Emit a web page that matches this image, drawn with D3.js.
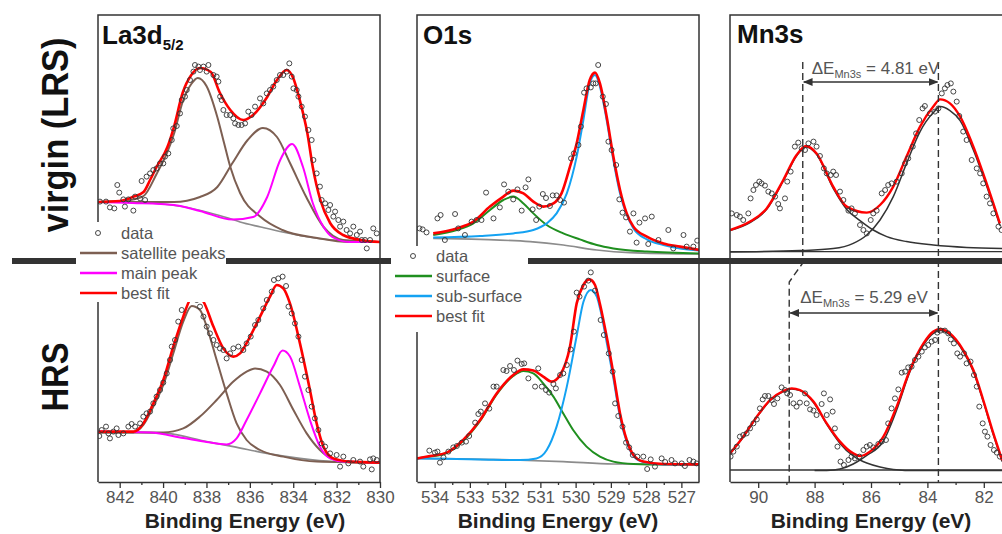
<!DOCTYPE html>
<html>
<head>
<meta charset="utf-8">
<script src="https://cdn.jsdelivr.net/npm/d3@7"></script>
<style>
  body { margin: 0; background: #fff; }
  svg { display: block; font-family: "Liberation Sans", Arial, sans-serif; }
</style>
</head>
<body>
<svg width="1002" height="534"></svg>
<script>
// ---- La3d5/2, virgin (LRS) ----
const laTopData = [[842.91,24.2],[842.63,24.2],[842.45,21.3],[842.25,20.8],[842.11,32.5],[842.02,28.7],[841.83,25.3],[841.76,21.7],[841.60,25.3],[841.37,19.7],[841.29,26.7],[841.06,25.8],[840.99,34.5],[840.83,25],[840.76,36.7],[840.60,38.3],[840.45,40],[840.30,40.8],[840.14,43.3],[839.99,43.3],[839.91,46.7],[839.76,48.3],[839.60,55],[839.53,60.8],[839.37,62],[839.22,68.3],[839.14,75],[838.99,76.7],[838.91,80],[838.76,85],[838.60,89.2],[838.53,92.5],[838.37,91.7],[838.30,90],[838.14,91.7],[837.99,89.2],[837.91,92.5],[837.68,87.5],[837.53,86.7],[837.45,84.2],[837.37,76.7],[837.30,75],[837.22,70],[837.07,67.5],[836.91,67.5],[836.76,65.8],[836.68,63.3],[836.53,62.5],[836.38,62.5],[836.22,63.3],[836.07,69.2],[835.92,67.5],[835.76,71.7],[835.53,75.8],[835.38,73.3],[835.22,78.3],[835.07,80],[834.92,81.7],[834.76,85],[834.61,87.5],[834.46,87.5],[834.30,89.2],[834.18,93.3],[834.07,86.7],[833.99,80.8],[833.84,80],[833.76,76.7],[833.61,71.7],[833.46,66.7],[833.30,60],[833.15,55],[833.07,45],[832.92,38.3],[832.77,31.7],[832.69,25],[832.53,23.3],[832.38,20],[832.30,22.5],[832.15,16.7],[832.07,19.2],[831.92,15],[831.84,11.7],[831.69,14.2],[831.54,10],[831.38,8.3],[831.23,11.7],[831.07,7.5],[830.92,9.2],[830.84,5],[830.69,5],[830.61,0.8],[830.46,5],[830.31,10.8],[830.15,8.3]];
const laTopFit = [[843,24],[842,24.5],[841.4,26.5],[840.9,29],[840.6,35],[840.3,41.5],[839.8,51.5],[839.5,61.5],[839.1,78.5],[838.7,87.5],[838.3,91],[837.8,89],[837.4,79],[836.9,70],[836.3,65],[835.85,67.5],[835.2,76.5],[834.75,85],[834.3,90],[834.0,86],[833.7,75],[833.35,58.5],[833.1,41.5],[832.75,25],[832.3,13.5],[831.7,7.5],[830.9,5],[830,4]];
const laTopSat1 = [[843,24],[841.5,25],[840.9,27],[840.3,38],[839.8,49],[839.5,58],[839.1,74],[838.7,83],[838.4,86],[838.0,82],[837.5,66.5],[837.2,54],[836.9,41.5],[836.45,28.5],[835.5,16.5],[834.5,10],[832.9,6],[831.4,4],[830,4]];
const laTopSat2 = [[843,24],[839.5,24],[838.3,26.5],[837.5,31.5],[836.8,43.5],[836.1,55],[835.4,61],[834.75,56.5],[834.15,43.5],[833.4,26.5],[832.6,11.5],[831.7,5],[830,4]];
const laTopMain = [[843,24],[841.4,23.5],[839.5,22.5],[838.3,19.5],[836.8,15.2],[835.85,16.5],[835.2,26.5],[834.6,45],[834.05,53],[833.55,41.5],[833.1,23.5],[832.6,11.5],[832.2,6.5],[831.4,4],[830,4]];
const laTopBg = [[843,24],[841,23.8],[840,23],[839,21.5],[838,19],[837,16],[836.45,14],[835.5,11.5],[834.5,9],[833.3,6.5],[832.2,5],[831,4.2],[830,4]];

// ---- La3d5/2, HRS ----
const laBotData = [[842.94,22],[842.83,25],[842.63,26.7],[842.52,23.3],[842.45,20.8],[842.29,24.2],[842.14,25.8],[842.06,22.5],[841.83,23.3],[841.6,26.7],[841.45,28],[841.29,26.7],[841.06,28.3],[840.91,31.7],[840.76,33.3],[840.6,34.2],[840.45,38.3],[840.3,41.7],[840.14,45],[839.99,48.7],[839.83,53.3],[839.68,60],[839.6,66.7],[839.45,70],[839.3,79.2],[839.14,85],[839.04,92],[838.91,95.8],[838.79,93.3],[838.68,90.8],[838.45,90],[838.3,86.7],[838.14,81.7],[837.99,76.7],[837.84,73.3],[837.68,70],[837.53,67.5],[837.38,65.8],[837.22,65],[837.07,60.8],[836.91,63.3],[836.76,65.8],[836.53,66.7],[836.3,65],[836.15,68.3],[835.96,71.7],[835.76,77.5],[835.61,80],[835.38,85.8],[835.22,90],[834.99,94.2],[834.89,100],[834.69,100.8],[834.49,101.7],[834.33,97],[834.22,86.7],[834.07,83.3],[833.92,78.3],[833.76,71.7],[833.61,60],[833.46,51.7],[833.3,45],[833.15,36.7],[833.0,30.8],[832.84,25],[832.69,18.3],[832.53,16.7],[832.3,13.3],[832.0,12.5],[831.84,6.7],[831.69,11.7],[831.46,8.3],[831.23,10],[830.92,9.2],[830.77,6.7],[830.46,10.3],[830.38,5.3],[830.31,10.8],[830.15,10]];
const laBotFit = [[842.98,24.2],[841.37,24.2],[840.91,28.3],[840.45,38.3],[839.99,50],[839.53,66.7],[839.07,81.7],[838.76,90],[838.45,92],[838.14,89.2],[837.68,76.7],[837.22,65.8],[836.76,61.7],[836.45,63.3],[835.99,71.7],[835.53,81.7],[835.07,91.7],[834.76,97.5],[834.46,95.8],[834.15,88.3],[833.69,68.3],[833.23,45],[832.92,28.3],[832.61,16.7],[832.15,10.8],[831.38,9.2],[830,8.7]];
const laBotSat1 = [[842.98,23.8],[841.37,23.8],[840.91,27.5],[840.45,36.7],[839.99,47.5],[839.53,63.3],[839.07,79.2],[838.68,87],[838.3,85],[837.99,76.7],[837.53,60],[837.07,43.3],[836.61,28.3],[836.15,20],[835.53,15],[834.46,11.7],[832.92,9.2],[830,8.7]];
const laBotSat2 = [[842.98,23.8],[839.99,23.8],[839.07,25.8],[838.3,31.7],[837.53,40],[836.76,49.2],[836.15,54.2],[835.76,55.8],[835.22,54.2],[834.61,47.5],[833.99,35],[833.38,23.3],[832.77,15],[832.15,10.3],[831.38,8.8],[830,8.7]];
const laBotMain = [[842.98,24.2],[840.6,23.7],[839.07,21],[837.99,19],[837.07,17.8],[836.61,20.8],[836.15,30],[835.53,43.3],[834.92,56.7],[834.49,64.7],[834.15,61.7],[833.69,46.7],[833.23,30],[832.77,16.7],[832.3,10.8],[831.69,9.2],[830,8.7]];
const laBotBg = [[842.98,24.2],[839.83,23.3],[837.99,19.2],[836.76,16.7],[835.22,13.3],[833.69,10.8],[832.15,9.2],[830,8.7]];

// ---- O1s, virgin (LRS) ----
const oTopData = [[534.43,10.8],[534.34,10.3],[534.23,8.8],[533.92,15.8],[533.83,17.5],[533.71,5],[533.42,18],[533.33,10.8],[533.14,7.5],[532.95,14.2],[532.81,15],[532.67,15],[532.54,28.7],[532.33,15.8],[532.15,21.3],[532.03,32.8],[531.91,29.2],[531.77,25.3],[531.65,30.3],[531.53,19.7],[531.42,31.3],[531.34,35.3],[531.22,20.3],[531.12,15],[531.03,21.7],[530.93,28],[530.84,26],[530.73,22],[530.65,27.3],[530.54,27.3],[530.44,25],[530.33,23.7],[530.13,45.8],[530.05,48.3],[529.92,52.5],[529.85,61.7],[529.76,78.7],[529.69,80.8],[529.57,81.3],[529.5,83.3],[529.43,83.3],[529.36,92.5],[529.23,76.7],[529.14,73],[529.07,54.2],[528.98,50],[528.85,42.5],[528.76,25.3],[528.67,18.7],[528.57,16.3],[528.46,9.2],[528.36,18.3],[528.27,3.7],[528.19,13.7],[528.03,15.8],[527.94,3],[527.84,16.7],[527.65,5],[527.37,10],[527.23,0.8],[526.94,7.5],[526.85,1.7],[526.66,1.7],[526.55,4.7]];
const oTopFit = [[534.04,8.3],[533.37,10.8],[532.9,14.2],[532.43,21.7],[532.05,26.7],[531.77,29.7],[531.48,28.3],[531.2,24.2],[530.92,21.7],[530.63,23.3],[530.4,28.3],[530.16,41.7],[529.97,53.3],[529.78,70],[529.6,85],[529.45,88.7],[529.31,83.3],[529.12,66.7],[528.93,46.7],[528.74,30],[528.55,18.3],[528.36,11.7],[527.98,6.7],[527.51,3.3],[527.04,1.7],[526.49,0]];
const oTopSurf = [[534.04,7.5],[533.37,10],[532.9,13.3],[532.43,20],[532.05,25],[531.77,26.7],[531.48,23.3],[531.2,18.3],[530.82,12.5],[530.35,8.3],[529.88,5.3],[529.4,2.5],[528.93,0.8],[527.98,-0.8],[526.49,-1.7]];
const oTopSub = [[534.04,6.3],[532.71,7],[531.77,8.3],[531.2,10],[530.82,13.3],[530.54,18.3],[530.25,28.3],[529.97,46.7],[529.78,65],[529.6,83.3],[529.45,87.5],[529.31,81.7],[529.12,65],[528.93,45],[528.74,28.3],[528.55,17.5],[528.36,10.8],[527.98,5.3],[527.51,2.5],[527.04,0.8],[526.49,-0.3]];
const oTopBg = [[534.04,5.8],[532.71,5.3],[531.29,4.2],[530.35,2.5],[529.4,0],[528.46,-1.3],[526.49,-2]];

// ---- O1s, HRS ----
const oBotData = [[534.15,14.7],[533.99,13.7],[533.92,14.2],[533.85,8.7],[533.75,11.3],[533.61,14.2],[533.47,16.3],[533.37,17],[533.23,18.7],[533.11,19.2],[533.02,22],[532.85,28.7],[532.76,33],[532.69,34.2],[532.57,38.3],[532.45,35.7],[532.33,46.7],[532.24,46.7],[532.05,55],[531.96,54.5],[531.86,57],[531.75,55],[531.65,59.7],[531.53,58],[531.46,58.3],[531.34,50.8],[531.15,46.7],[531.06,55.8],[530.96,46.7],[530.84,45],[530.75,43.7],[530.63,48],[530.56,45.8],[530.44,52.5],[530.35,53.3],[530.25,57.5],[530.14,65.3],[530.05,74.2],[529.97,93.7],[529.89,91.7],[529.76,96.7],[529.64,99.7],[529.57,103.8],[529.45,94.7],[529.29,80],[529.2,72.5],[529.06,63.3],[528.95,54.2],[528.88,38.3],[528.79,32],[528.67,26.7],[528.57,18.7],[528.48,16.3],[528.38,12.5],[528.25,11.7],[528.08,11.7],[527.97,5.5],[527.87,10.3],[527.75,6.7],[527.56,10.8],[527.46,9],[527.28,10],[527.18,8.3],[526.99,8.3],[526.9,7],[526.77,10],[526.66,9.2],[526.57,8.3]];
const oBotFit = [[534.5,10.8],[534.13,12],[533.66,13.7],[533.19,20],[532.71,30],[532.24,43.3],[531.77,52.5],[531.48,55.3],[531.2,54.7],[530.92,51.7],[530.68,49.2],[530.44,52.5],[530.16,66.7],[529.97,88.3],[529.78,97.5],[529.61,100.3],[529.45,97.5],[529.31,88],[529.12,71.7],[528.93,53.3],[528.74,33.3],[528.55,20],[528.36,12.5],[528.08,9.2],[527.51,8],[526.49,7.8]];
const oBotSurf = [[534.5,10.8],[534.13,11.7],[533.66,13.5],[533.19,19.5],[532.71,29.5],[532.24,42.8],[531.77,52],[531.48,54.5],[531.2,53.3],[530.92,48.3],[530.63,41.7],[530.35,33.3],[530.07,25],[529.69,16.7],[529.31,11.7],[528.93,9.2],[528.36,8],[527.51,7.7],[526.49,7.7]];
const oBotSub = [[534.5,10.8],[532.71,10.3],[531.58,10],[531.11,10.8],[530.82,15],[530.54,26.7],[530.25,46.7],[529.97,72],[529.78,89],[529.57,95],[529.4,91.7],[529.31,86],[529.12,69],[528.93,51],[528.74,31.5],[528.55,19],[528.36,12],[528.08,9],[527.51,7.8],[526.49,7.7]];
const oBotBg = [[534.5,10.8],[531.77,10],[530.35,9.2],[528.93,8],[526.49,7.7]];

// ---- Mn3s, virgin (LRS) ----
const mnTopData = [[90.94,18.3],[90.76,17.5],[90.65,16.7],[90.53,15],[90.35,18.3],[90.27,25.8],[90.17,30],[90.08,32.5],[89.96,34.2],[89.88,33.3],[89.76,32.2],[89.64,29.2],[89.52,28.3],[89.4,26.7],[89.29,23],[89.23,20.8],[89.05,25.8],[88.97,34.2],[88.85,39.2],[88.7,51.7],[88.58,53.7],[88.46,50.8],[88.34,50],[88.22,53.3],[88.04,54.2],[87.93,51.7],[87.81,47],[87.67,40.8],[87.57,38.3],[87.43,37.5],[87.34,39.2],[87.24,37.5],[87.1,29.2],[86.98,25],[86.8,19.7],[86.69,20.8],[86.57,18.3],[86.39,12.5],[86.27,10],[86.15,8.3],[86.01,15],[85.92,18.3],[85.8,19.7],[85.62,28.3],[85.5,30],[85.39,32.5],[85.27,33.3],[85.09,34.2],[84.91,38.3],[84.79,43.3],[84.68,45.8],[84.52,51.7],[84.4,58.3],[84.29,65],[84.17,70.8],[84.09,72],[83.91,68.3],[83.73,69.2],[83.61,70.8],[83.49,78.3],[83.38,80.8],[83.29,82.5],[83.17,83.3],[83.08,79.2],[82.96,74.2],[82.87,67],[82.73,59.2],[82.61,55],[82.43,45],[82.25,40.8],[82.13,38.3],[82.02,33.3],[81.9,26.7],[81.78,23.3],[81.66,18.3],[81.48,11.7],[81.37,10]];
const mnTopFit = [[91,10],[90.29,14.2],[89.7,20.8],[89.11,35],[88.64,47.5],[88.3,52],[87.93,48.3],[87.34,31.7],[86.86,21.7],[86.15,18.7],[85.68,22.5],[85.21,31.7],[84.74,46.7],[84.26,61.7],[83.79,71.7],[83.55,75.3],[83.2,73.3],[82.84,66.7],[82.37,51.7],[81.9,33.3],[81.43,13.3]];
const mnTopPeak1 = [[91,9.7],[90.29,13.7],[89.7,20.3],[89.11,34.5],[88.64,47],[88.3,51.5],[87.93,47.8],[87.34,30.8],[86.86,20.3],[86.39,14.7],[85.92,10],[85.44,6.7],[84.74,4.2],[83.79,2.5],[82.61,1.3],[81.35,0.8]];
const mnTopPeak2 = [[91,-1],[88.52,-0.3],[87.34,0.7],[86.63,3.3],[86.15,7.5],[85.68,15],[85.21,26.7],[84.74,43.3],[84.26,59.2],[83.79,68.7],[83.55,71.7],[83.2,69.7],[82.84,64.7],[82.37,50],[81.9,32],[81.43,12.3]];
const mnTopBase = [[91,-0.8],[81,-0.8]];
const mnTopSplit = [88.42, 83.61];

// ---- Mn3s, HRS ----
const mnBotData = [[90.98,11.7],[90.88,14.2],[90.76,16.7],[90.65,21.7],[90.53,22.5],[90.41,23.3],[90.29,25.8],[90.17,28.3],[90.05,30.3],[89.94,35.8],[89.84,40.3],[89.76,42],[89.64,42],[89.52,40],[89.44,38],[89.32,40.8],[89.17,46.3],[89.05,45],[88.97,43.3],[88.87,42.5],[88.75,38.3],[88.64,36.7],[88.52,38.7],[88.34,43.3],[88.28,38.3],[88.16,35.3],[88.04,34.7],[87.93,32.5],[87.75,38],[87.67,43.3],[87.57,32.5],[87.45,40.3],[87.36,34.2],[87.28,25.8],[87.19,16.7],[87.08,9.2],[86.96,7.5],[86.8,10],[86.69,11.7],[86.57,10.8],[86.41,11.7],[86.27,15],[86.15,16.7],[86.04,17.5],[85.92,16.3],[85.74,18],[85.62,19.2],[85.47,20],[85.39,28.3],[85.27,35.8],[85.15,40.8],[85.03,45.3],[84.91,53.7],[84.79,54.2],[84.68,56.3],[84.56,56.7],[84.44,60],[84.32,61.7],[84.2,64.2],[84.09,66.3],[83.97,67.5],[83.85,69.2],[83.73,70],[83.65,73.7],[83.53,74.7],[83.38,74.7],[83.26,73.3],[83.17,70.3],[83.06,68.3],[82.94,63.3],[82.84,61.7],[82.7,63.3],[82.61,58.3],[82.47,59.2],[82.35,52.5],[82.25,46.7],[82.16,36.7],[82.04,28.3],[81.96,24.2],[81.87,21.7],[81.76,17.5],[81.64,15],[81.54,13.7],[81.43,11.7]];
const mnBotFit = [[91,13.3],[90.53,21.7],[90.05,31.7],[89.58,40],[89.11,44.5],[88.81,45.8],[88.52,45],[88.04,39.2],[87.57,28.3],[87.1,19.2],[86.63,13.3],[86.39,12],[86.04,14.2],[85.56,21.7],[85.09,36.7],[84.62,55],[84.14,68.3],[83.79,74.2],[83.55,75.5],[83.2,73.3],[82.73,65],[82.37,55],[82.02,40],[81.66,23.3],[81.35,10]];
const mnBotPeak1 = [[91,13],[90.53,21.3],[90.05,31.3],[89.58,39.7],[89.11,44.2],[88.81,45.5],[88.52,44.7],[88.04,38.7],[87.57,27.8],[87.1,18.3],[86.63,12],[86.39,10],[86.15,8.5],[85.68,6.5],[85.21,5.3],[84.38,4.7],[81,4.7]];
const mnBotPeak2 = [[88,4.7],[87.57,4.8],[87.1,5.5],[86.63,8],[86.39,10],[86.15,12.3],[85.56,19.5],[85.09,35],[84.62,54.2],[84.14,67.5],[83.79,73.3],[83.55,74.7],[83.2,72.5],[82.73,64.2],[82.37,54.2],[82.02,39.2],[81.66,22.5],[81.35,9.2]];
const mnBotBase = [[91,5],[81,5]];
const mnBotSplit = [88.9, 83.61];

// ---- axes, titles, legends ----
const laMajor = [842, 840, 838, 836, 834, 832, 830];
const laMinor = [841, 839, 837, 835, 833, 831];
const oMajor = [534, 533, 532, 531, 530, 529, 528, 527];
const oMinor = [533.5, 532.5, 531.5, 530.5, 529.5, 528.5, 527.5];
const mnMajor = [90, 88, 86, 84, 82];
const mnMinor = [89, 87, 85, 83];
const laLegend = ["data", "satellite peaks", "main peak", "best fit"];
const oLegend = ["data", "surface", "sub-surface", "best fit"];
const rowLabels = ["virgin (LRS)", "HRS"];

const RED = "#ff0000", BROWN = "#7d5f52", MAGENTA = "#ff00ff", GREEN = "#1f8f1f",
      BLUE = "#14a2f2", GREY = "#8c8c8c", DARK = "#333";

const svg = d3.select("svg");
const frameTop = 15, frameBottom = 482;

const yTop = d3.scaleLinear().domain([0, 100]).range([250, 50]);
const yBot = d3.scaleLinear().domain([0, 100]).range([480, 280]);

const xLa = d3.scaleLinear().domain([843, 830]).range([98, 380]);
const xO = d3.scaleLinear().domain([534.5, 526.5]).range([417, 699]);
const xMn = d3.scaleLinear().domain([91, 81]).range([730, 1012]);

const defs = svg.append("defs");
defs.append("marker").attr("id", "arrow")
  .attr("viewBox", "0 0 10 10").attr("refX", 9).attr("refY", 5)
  .attr("markerWidth", 7).attr("markerHeight", 7)
  .attr("orient", "auto-start-reverse")
  .append("path").attr("d", "M0,1 L10,5 L0,9 z").attr("fill", DARK);

function drawPanel(id, x, ticksMajor, ticksMinor, fmt, layers) {
  const [x0, x1] = x.range();
  defs.append("clipPath").attr("id", "clip-" + id)
    .append("rect").attr("x", x0).attr("y", frameTop)
    .attr("width", x1 - x0).attr("height", frameBottom - frameTop);

  const g = svg.append("g").attr("clip-path", `url(#clip-${id})`);

  layers.forEach(l => {
    const line = d3.line()
      .x(d => x(d[0])).y(d => l.y(d[1]))
      .curve(d3.curveMonotoneX);
    if (l.points) {
      g.append("g").selectAll("circle").data(l.points).join("circle")
        .attr("cx", d => x(d[0])).attr("cy", d => l.y(d[1]))
        .attr("r", 2.5).attr("fill", "none")
        .attr("stroke", DARK).attr("stroke-width", 0.9);
    } else {
      g.append("path").datum(l.data)
        .attr("d", line).attr("fill", "none")
        .attr("stroke", l.color).attr("stroke-width", l.w || 2);
    }
  });

  // frame
  svg.append("path")
    .attr("d", `M${x0},${frameBottom}V${frameTop}H${x1}V${frameBottom}`)
    .attr("fill", "none").attr("stroke", DARK).attr("stroke-width", 1.5);

  const axis = svg.append("g").attr("transform", `translate(0,${frameBottom})`)
    .call(d3.axisBottom(x).tickValues(ticksMajor).tickSize(6).tickSizeOuter(0).tickFormat(fmt));
  axis.select(".domain").attr("stroke", DARK).attr("stroke-width", 1.5);
  axis.selectAll(".tick line").attr("stroke", DARK).attr("stroke-width", 1.3);
  axis.selectAll(".tick text").attr("fill", "#555").attr("font-size", 17)
    .attr("font-family", "Liberation Sans, Arial, sans-serif");

  const minor = svg.append("g").attr("transform", `translate(0,${frameBottom})`)
    .call(d3.axisBottom(x).tickValues(ticksMinor).tickSize(3).tickFormat(""));
  minor.select(".domain").remove();
  minor.selectAll(".tick line").attr("stroke", DARK).attr("stroke-width", 1.3);

  svg.append("text")
    .attr("x", (x0 + Math.min(x1, 1012)) / 2 + (id === "la" ? 6 : 0))
    .attr("y", 528).attr("text-anchor", "middle")
    .attr("font-size", 21).attr("font-weight", "bold").attr("fill", "#222")
    .text("Binding Energy (eV)");
}

drawPanel("la", xLa, laMajor, laMinor, d3.format("d"), [
  { data: laTopBg, color: GREY, y: yTop, w: 1.6 },
  { data: laTopSat1, color: BROWN, y: yTop },
  { data: laTopSat2, color: BROWN, y: yTop },
  { data: laTopMain, color: MAGENTA, y: yTop },
  { data: laTopFit, color: RED, y: yTop, w: 2.6 },
  { points: laTopData, y: yTop },
  { data: laBotBg, color: GREY, y: yBot, w: 1.6 },
  { data: laBotSat1, color: BROWN, y: yBot },
  { data: laBotSat2, color: BROWN, y: yBot },
  { data: laBotMain, color: MAGENTA, y: yBot },
  { data: laBotFit, color: RED, y: yBot, w: 2.6 },
  { points: laBotData, y: yBot }
]);

drawPanel("o", xO, oMajor, oMinor, d3.format("d"), [
  { data: oTopBg, color: GREY, y: yTop, w: 1.6 },
  { data: oTopSurf, color: GREEN, y: yTop },
  { data: oTopSub, color: BLUE, y: yTop },
  { data: oTopFit, color: RED, y: yTop, w: 2.6 },
  { points: oTopData, y: yTop },
  { data: oBotBg, color: GREY, y: yBot, w: 1.6 },
  { data: oBotSurf, color: GREEN, y: yBot },
  { data: oBotSub, color: BLUE, y: yBot },
  { data: oBotFit, color: RED, y: yBot, w: 2.6 },
  { points: oBotData, y: yBot }
]);

drawPanel("mn", xMn, mnMajor, mnMinor, d3.format("d"), [
  { data: mnTopBase, color: DARK, y: yTop, w: 1.4 },
  { data: mnTopPeak1, color: DARK, y: yTop, w: 1.5 },
  { data: mnTopPeak2, color: DARK, y: yTop, w: 1.5 },
  { data: mnTopFit, color: RED, y: yTop, w: 2.4 },
  { points: mnTopData, y: yTop },
  { data: mnBotBase, color: DARK, y: yBot, w: 1.4 },
  { data: mnBotPeak1, color: DARK, y: yBot, w: 1.5 },
  { data: mnBotPeak2, color: DARK, y: yBot, w: 1.5 },
  { data: mnBotFit, color: RED, y: yBot, w: 2.4 },
  { points: mnBotData, y: yBot }
]);

// Mn3s multiplet splitting guides
const dash = { stroke: DARK, "stroke-width": 1.4, "stroke-dasharray": "7,4", fill: "none" };
const guides = svg.append("g");
const lt = xMn(mnTopSplit[0]), lb = xMn(mnBotSplit[0]), rr = xMn(mnTopSplit[1]);
[`M${lt},62V263L${lb},282V${frameBottom}`, `M${rr},62V${frameBottom}`].forEach(d => {
  const p = guides.append("path").attr("d", d);
  Object.entries(dash).forEach(([k, v]) => p.attr(k, v));
});
[[lt, rr, 82], [lb, xMn(mnBotSplit[1]), 313]].forEach(([a, b, yy]) => {
  guides.append("line").attr("x1", a + 1).attr("x2", b - 1).attr("y1", yy).attr("y2", yy)
    .attr("stroke", DARK).attr("stroke-width", 1.4)
    .attr("marker-start", "url(#arrow)").attr("marker-end", "url(#arrow)");
});
function splitLabel(xx, yy, val) {
  const t = svg.append("text").attr("x", xx).attr("y", yy).attr("fill", "#555").attr("font-size", 17);
  t.append("tspan").text("ΔE");
  t.append("tspan").attr("font-size", 11).attr("dy", 4).text("Mn3s");
  t.append("tspan").attr("dy", -4).text(" = " + val.toFixed(2) + " eV");
}
splitLabel(lt + 9, 74, mnTopSplit[0] - mnTopSplit[1]);
splitLabel(lb + 11, 303, mnBotSplit[0] - mnBotSplit[1]);

// separator bar
svg.append("rect").attr("x", 12).attr("y", 258).attr("width", 990).attr("height", 6).attr("fill", "#333");

// legends
function legend(x0, y0, boxW, boxH, startY, labels, colors) {
  svg.append("rect").attr("x", x0).attr("y", y0).attr("width", boxW).attr("height", boxH).attr("fill", "#fff");
  labels.forEach((lab, i) => {
    const cy = startY + i * 20;
    if (i === 0) {
      svg.append("circle").attr("cx", x0 + 22).attr("cy", cy).attr("r", 2.5)
        .attr("fill", "none").attr("stroke", DARK).attr("stroke-width", 0.9);
    } else {
      svg.append("line").attr("x1", x0 + 4).attr("x2", x0 + 41).attr("y1", cy).attr("y2", cy)
        .attr("stroke", colors[i]).attr("stroke-width", 2.4);
    }
    svg.append("text").attr("x", x0 + 45).attr("y", cy + 6).attr("font-size", 16.5)
      .attr("fill", "#555").text(lab);
  });
}
legend(76, 222, 150, 80, 233, laLegend, [null, BROWN, MAGENTA, RED]);
legend(391, 246, 137, 86, 256, oLegend, [null, GREEN, BLUE, RED]);

// panel titles
const tLa = svg.append("text").attr("x", 102).attr("y", 44).attr("font-size", 26).attr("font-weight", "bold").attr("fill", "#111");
tLa.append("tspan").text("La3d");
tLa.append("tspan").attr("font-size", 15).attr("dy", 6).text("5/2");
svg.append("text").attr("x", 423).attr("y", 44).attr("font-size", 26).attr("font-weight", "bold").attr("fill", "#111").text("O1s");
svg.append("text").attr("x", 737).attr("y", 43).attr("font-size", 26).attr("font-weight", "bold").attr("fill", "#111").text("Mn3s");

// row labels
[[135, rowLabels[0], 195], [377, rowLabels[1], 69]].forEach(([cy, lab, len]) => {
  svg.append("text").attr("transform", `translate(68,${cy}) rotate(-90)`)
    .attr("text-anchor", "middle").attr("font-size", 37).attr("font-weight", "bold")
    .attr("textLength", len).attr("lengthAdjust", "spacingAndGlyphs")
    .attr("fill", "#111").text(lab);
});
</script>
</body>
</html>
